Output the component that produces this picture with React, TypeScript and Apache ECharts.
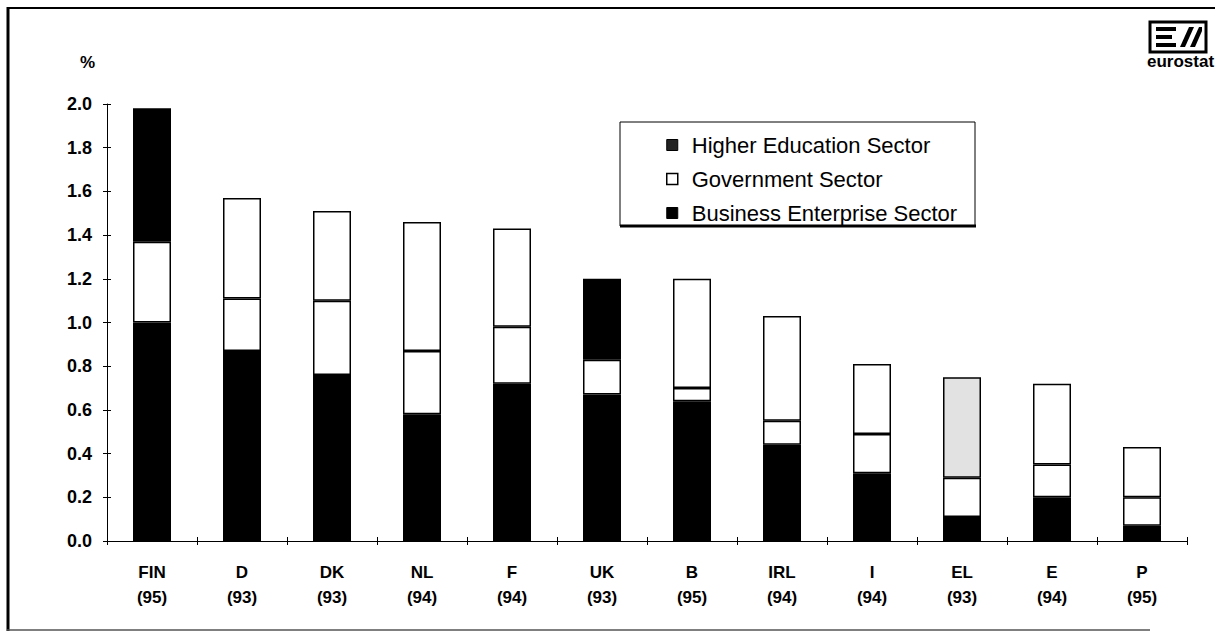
import React, { useEffect, useRef } from "react";
import * as echarts from "echarts";

const countries = ["FIN", "D", "DK", "NL", "F", "UK", "B", "IRL", "I", "EL", "E", "P"];
const years = ["95", "93", "93", "94", "94", "93", "95", "94", "94", "93", "94", "95"];
const business = [1.0, 0.87, 0.76, 0.58, 0.72, 0.67, 0.64, 0.44, 0.31, 0.11, 0.2, 0.07];
const government = [0.37, 0.24, 0.34, 0.29, 0.26, 0.16, 0.06, 0.11, 0.18, 0.18, 0.15, 0.13];
const higherEducation = [0.61, 0.46, 0.41, 0.59, 0.45, 0.37, 0.5, 0.48, 0.32, 0.46, 0.37, 0.23];
const seriesNames = ["Higher Education Sector", "Government Sector", "Business Enterprise Sector"];

// fill used for the higher-education segment of each bar, as scanned
const heFillByCountry: Record<string, string> = { FIN: "#000", UK: "#000", EL: "#e2e2e2" };

const FONT = "'Liberation Sans', Arial, sans-serif";

export default function App() {
  const ref = useRef<HTMLDivElement>(null);
  useEffect(() => {
    if (!ref.current) return;
    const chart = echarts.init(ref.current, undefined, { renderer: "svg" });
    const cats = countries.map((c, i) => c + "\n(" + years[i] + ")");
    const yBase = {
      type: "value",
      min: 0,
      max: 2,
      interval: 0.2,
      splitLine: { show: false },
    };
    const xBase = {
      type: "category",
      data: cats,
      boundaryGap: true,
      splitLine: { show: false },
    };
    const barStyle = { borderColor: "#000", borderWidth: 1.5 };
    chart.setOption({
      animation: false,
      backgroundColor: "#fff",
      textStyle: { fontFamily: FONT },
      grid: { left: 107, right: 28, top: 104, bottom: 94, containLabel: false },
      xAxis: [
        {
          ...xBase,
          axisLine: { show: true, lineStyle: { color: "#000", width: 1 } },
          axisTick: { show: true, length: 4, lineStyle: { color: "#000" } },
          axisLabel: {
            color: "#000",
            fontSize: 17,
            fontWeight: "bold",
            fontFamily: FONT,
            lineHeight: 25,
            margin: 19,
          },
        },
        {
          ...xBase,
          position: "bottom",
          axisLine: { show: false },
          axisTick: { show: true, inside: true, length: 4, lineStyle: { color: "#000" } },
          axisLabel: { show: false },
        },
      ],
      yAxis: [
        {
          ...yBase,
          axisLine: { show: true, lineStyle: { color: "#000", width: 1 } },
          axisTick: { show: true, length: 4, lineStyle: { color: "#000" } },
          axisLabel: {
            color: "#000",
            fontSize: 18,
            fontWeight: "bold",
            fontFamily: FONT,
            margin: 15,
            formatter: (v: number) => v.toFixed(1),
          },
        },
        {
          ...yBase,
          position: "left",
          axisLine: { show: false },
          axisTick: { show: true, inside: true, length: 4, lineStyle: { color: "#000" } },
          axisLabel: { show: false },
        },
      ],
      legend: {
        orient: "vertical",
        left: 661,
        top: 129,
        itemGap: 12,
        itemWidth: 11,
        itemHeight: 11,
        icon: "rect",
        data: [
          { name: seriesNames[0], itemStyle: { color: "#222", borderColor: "#000", borderWidth: 1 } },
          { name: seriesNames[1], itemStyle: { color: "#fff", borderColor: "#000", borderWidth: 1.5 } },
          { name: seriesNames[2], itemStyle: { color: "#000", borderColor: "#000", borderWidth: 1 } },
        ],
        textStyle: { color: "#000", fontSize: 22, fontFamily: FONT, padding: [0, 0, 0, 9] },
      },
      series: [
        {
          name: seriesNames[2],
          type: "bar",
          stack: "rd",
          barWidth: 38,
          itemStyle: { color: "#000", ...barStyle },
          data: business,
        },
        {
          name: seriesNames[1],
          type: "bar",
          stack: "rd",
          barWidth: 38,
          itemStyle: { color: "#fff", ...barStyle },
          data: government,
        },
        {
          name: seriesNames[0],
          type: "bar",
          stack: "rd",
          barWidth: 38,
          itemStyle: { color: "#fff", ...barStyle },
          data: higherEducation.map((v, i) => ({
            value: v,
            itemStyle: { color: heFillByCountry[countries[i]] || "#fff" },
          })),
        },
      ],
      graphic: [
        // page frame (scanned: top and left dark, bottom faint, no right edge)
        { type: "line", shape: { x1: 7, y1: 8, x2: 1215, y2: 8 }, style: { stroke: "#000", lineWidth: 2 }, silent: true },
        { type: "line", shape: { x1: 8, y1: 7, x2: 8, y2: 631 }, style: { stroke: "#000", lineWidth: 3 }, silent: true },
        { type: "line", shape: { x1: 7, y1: 630, x2: 1150, y2: 630 }, style: { stroke: "#555", lineWidth: 1.5 }, silent: true },
        {
          type: "text",
          x: 80,
          y: 54,
          style: { text: "%", fill: "#000", font: "bold 17px " + FONT },
        },
        {
          type: "rect",
          shape: { x: 620, y: 122, width: 355, height: 104 },
          style: { fill: "#fff", stroke: "#000", lineWidth: 1 },
          z: -1,
        },
        {
          type: "line",
          shape: { x1: 620, y1: 226, x2: 976, y2: 226 },
          style: { stroke: "#000", lineWidth: 3 },
        },
        // eurostat logo
        {
          type: "group",
          x: 1150,
          y: 22,
          children: [
            { type: "rect", shape: { x: 0, y: 0, width: 56, height: 30 }, style: { fill: "#fff", stroke: "#000", lineWidth: 3 } },
            { type: "rect", shape: { x: 6, y: 5, width: 20, height: 4 }, style: { fill: "#000" } },
            { type: "rect", shape: { x: 6, y: 13, width: 16, height: 4 }, style: { fill: "#000" } },
            { type: "rect", shape: { x: 6, y: 21, width: 20, height: 4 }, style: { fill: "#000" } },
            { type: "polygon", shape: { points: [[30, 25], [35, 25], [44, 5], [39, 5]] }, style: { fill: "#000" } },
            { type: "polygon", shape: { points: [[40, 25], [45, 25], [52, 9], [52, 5], [49, 5]] }, style: { fill: "#000" } },
          ],
        },
        {
          type: "text",
          x: 1147,
          y: 53,
          style: { text: "eurostat", fill: "#000", font: "bold 17px " + FONT },
        },
      ],
    });
    return () => chart.dispose();
  }, []);
  return (
    <div
      ref={ref}
      style={{ position: "fixed", left: 0, top: 0, width: 1215, height: 635, background: "#fff" }}
    />
  );
}
